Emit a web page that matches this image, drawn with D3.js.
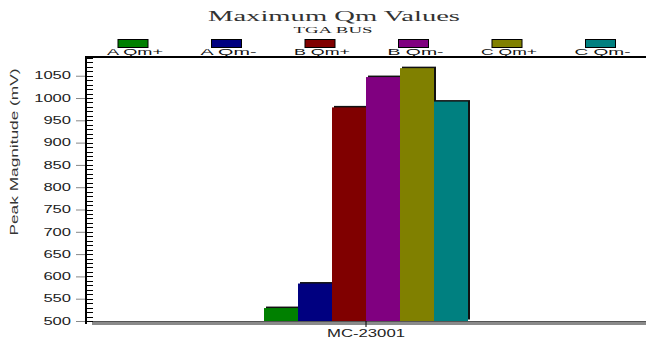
<!DOCTYPE html>
<html>
<head>
<meta charset="utf-8">
<script src="https://cdn.jsdelivr.net/npm/d3@7"></script>
<style>
  body { margin: 0; background: #fff; }
  text { font-family: "Liberation Sans", Arial, sans-serif; }
</style>
</head>
<body>
<div id="chart"></div>
<script>
const categories = ["MC-23001"];
const seriesNames = ["A Qm+", "A Qm-", "B Qm+", "B Qm-", "C Qm+", "C Qm-"];
const seriesColors = ["#008000", "#000080", "#800000", "#800080", "#808000", "#008080"];
const seriesValues = [529, 584, 979, 1047, 1067, 992];
const yTicks = [500, 550, 600, 650, 700, 750, 800, 850, 900, 950, 1000, 1050];

const W = 646, H = 340;
const plot = { left: 86, right: 646, top: 57, bottom: 321 };

const svg = d3.select("#chart").append("svg")
  .attr("width", W)
  .attr("height", H);

const y = d3.scaleLinear()
  .domain([500, 1092])
  .range([plot.bottom, plot.top]);

const x = d3.scaleBand()
  .domain(categories)
  .range([264, 468]);

const xs = d3.scaleBand()
  .domain(seriesNames)
  .range([0, x.bandwidth()]);

// title
svg.append("text")
  .attr("x", 334).attr("y", 21)
  .attr("text-anchor", "middle")
  .attr("textLength", 252).attr("lengthAdjust", "spacingAndGlyphs")
  .style("font-family", "'Liberation Serif', 'Times New Roman', serif")
  .style("font-size", "15px")
  .attr("fill", "#333")
  .text("Maximum Qm Values");

svg.append("text")
  .attr("x", 333).attr("y", 33)
  .attr("text-anchor", "middle")
  .attr("textLength", 79).attr("lengthAdjust", "spacingAndGlyphs")
  .style("font-family", "'Liberation Serif', 'Times New Roman', serif")
  .style("font-size", "9px")
  .attr("fill", "#222")
  .text("TGA BUS");

// legend
const legend = svg.append("g");
const legendItems = legend.selectAll("g")
  .data(seriesNames)
  .enter()
  .append("g")
  .attr("transform", (d, i) => "translate(" + (133 + i * 93.5) + ",0)");

legendItems.append("rect")
  .attr("x", -15).attr("y", 39.5)
  .attr("width", 30).attr("height", 8)
  .attr("fill", (d, i) => seriesColors[i])
  .attr("stroke", "#000")
  .attr("stroke-width", 1);

legendItems.append("text")
  .attr("x", 2).attr("y", 55)
  .attr("text-anchor", "middle")
  .attr("textLength", 56).attr("lengthAdjust", "spacingAndGlyphs")
  .style("font-size", "9px")
  .attr("fill", "#111")
  .text(d => d);

// bars with shadow
const bars = svg.append("g");
seriesNames.forEach((name, i) => {
  const bx = x(categories[0]) + xs(name);
  const by = y(seriesValues[i]);
  const bh = plot.bottom - by;
  bars.append("rect")
    .attr("x", bx + 2).attr("y", by - 1.5)
    .attr("width", xs.bandwidth()).attr("height", bh)
    .attr("fill", "#111");
  bars.append("rect")
    .attr("x", bx).attr("y", by)
    .attr("width", xs.bandwidth()).attr("height", bh)
    .attr("fill", seriesColors[i]);
});

// bottom axis (gray double line)
svg.append("rect")
  .attr("x", 92).attr("y", plot.bottom)
  .attr("width", W - 92).attr("height", 4)
  .attr("fill", "#8a8a8a");
svg.append("line")
  .attr("x1", 92).attr("x2", W)
  .attr("y1", plot.bottom + 0.5).attr("y2", plot.bottom + 0.5)
  .attr("stroke", "#555");

svg.append("line")
  .attr("x1", x(categories[0]) + x.bandwidth() / 2)
  .attr("x2", x(categories[0]) + x.bandwidth() / 2)
  .attr("y1", plot.bottom).attr("y2", plot.bottom + 6)
  .attr("stroke", "#000");

svg.append("text")
  .attr("x", x(categories[0]) + x.bandwidth() / 2)
  .attr("y", 337)
  .attr("text-anchor", "middle")
  .attr("textLength", 78).attr("lengthAdjust", "spacingAndGlyphs")
  .style("font-size", "10px")
  .attr("fill", "#222")
  .text(categories[0]);

// minor ticks inside the left axis
const minor = d3.range(500, 1091, 10);
svg.append("g")
  .selectAll("line")
  .data(minor)
  .enter()
  .append("line")
  .attr("x1", plot.left).attr("x2", plot.left + 7)
  .attr("y1", d => Math.round(y(d)) + 0.5)
  .attr("y2", d => Math.round(y(d)) + 0.5)
  .attr("stroke", "#000");

// left axis
const yAxis = svg.append("g")
  .attr("transform", "translate(" + plot.left + ",0)")
  .call(d3.axisLeft(y).tickValues(yTicks).tickFormat(d3.format("d")).tickSize(10).tickPadding(5));
yAxis.select(".domain").remove();
yAxis.selectAll(".tick line").attr("stroke", "#888");
yAxis.selectAll(".tick text")
  .style("font-size", "10px")
  .attr("fill", "#222")
  .attr("textLength", d => String(d).length * 9.2)
  .attr("lengthAdjust", "spacingAndGlyphs");

svg.append("line")
  .attr("x1", plot.left).attr("x2", plot.left)
  .attr("y1", plot.top).attr("y2", plot.bottom + 3)
  .attr("stroke", "#000").attr("stroke-width", 2);

// top frame line
svg.append("line")
  .attr("x1", plot.left - 1).attr("x2", W)
  .attr("y1", plot.top).attr("y2", plot.top)
  .attr("stroke", "#000").attr("stroke-width", 2);

// y axis title
svg.append("text")
  .attr("transform", "translate(18," + 152 + ") rotate(-90)")
  .attr("text-anchor", "middle")
  .attr("textLength", 167).attr("lengthAdjust", "spacingAndGlyphs")
  .style("font-size", "11px")
  .attr("fill", "#333")
  .text("Peak Magnitude (mV)");
</script>
</body>
</html>
